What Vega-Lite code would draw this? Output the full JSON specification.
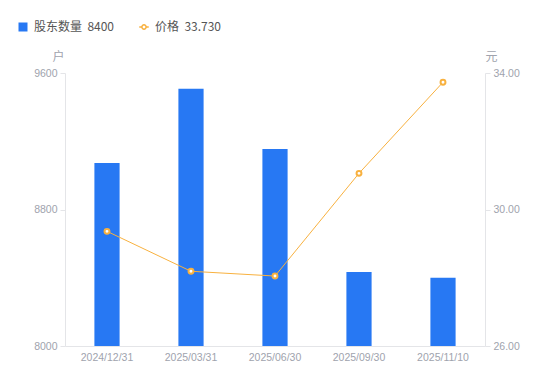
{
  "$schema": "https://vega.github.io/schema/vega-lite/v6.json",
  "width": 420,
  "height": 273,
  "autosize": {"type": "none"},
  "padding": {"left": 65, "top": 73, "right": 65, "bottom": 35},
  "background": "white",
  "config": {"view": {"stroke": null}, "font": "Liberation Sans", "axis": {"labelFont": "Liberation Sans"}},
  "data": {
    "values": [
      {"date": "2024/12/31", "holders": 9073, "price": 29.36},
      {"date": "2025/03/31", "holders": 9507, "price": 28.19},
      {"date": "2025/06/30", "holders": 9155, "price": 28.05},
      {"date": "2025/09/30", "holders": 8433, "price": 31.06},
      {"date": "2025/11/10", "holders": 8400, "price": 33.73}
    ]
  },
  "encoding": {
    "x": {
      "field": "date",
      "type": "ordinal",
      "sort": null,
      "scale": {"paddingInner": 0.7, "paddingOuter": 0.35},
      "axis": {
        "title": null,
        "labelAngle": 0,
        "ticks": false,
        "domainColor": "#E4E5E8",
        "labelColor": "#A0A3AD",
        "labelFont": "Liberation Sans",
        "labelFontSize": 10.5,
        "labelPadding": 6
      }
    }
  },
  "layer": [
    {
      "mark": {"type": "bar", "clip": true},
      "encoding": {
        "y": {
          "field": "holders",
          "type": "quantitative",
          "scale": {"domain": [8000, 9600], "nice": false, "zero": false},
          "axis": {
            "orient": "left",
            "values": [8000, 8800, 9600],
            "format": "d",
            "grid": false,
            "domainColor": "#E4E5E8",
            "tickColor": "#E4E5E8",
            "tickSize": 5,
            "labelPadding": 3,
            "labelColor": "#A0A3AD",
            "labelFont": "Liberation Sans",
            "labelFontSize": 10.5,
            "title": "户",
            "titleAngle": 0,
            "titleX": -7,
            "titleY": -17,
            "titleAlign": "center",
            "titleBaseline": "middle",
            "titleColor": "#A0A3AD",
            "titleFont": "Noto Sans CJK SC",
            "titleFontSize": 12,
            "titleFontWeight": "normal"
          }
        },
        "fill": {
          "datum": "股东数量",
          "scale": {"range": ["#2778F3"]},
          "legend": {
            "orient": "none",
            "legendX": -48,
            "legendY": -52,
            "title": null,
            "padding": 0,
            "symbolType": "square",
            "symbolSize": 81,
            "symbolStrokeWidth": 0,
            "labelFont": "Noto Sans CJK SC",
            "labelFontSize": 12,
            "labelColor": "#555555",
            "labelOffset": 5,
            "labelExpr": "datum.label + '\u00a0\u00a08400'"
          }
        }
      }
    },
    {
      "encoding": {
        "y": {
          "field": "price",
          "type": "quantitative",
          "scale": {"domain": [26, 34], "nice": false, "zero": false},
          "axis": {
            "orient": "right",
            "values": [26, 30, 34],
            "format": ".2f",
            "grid": false,
            "domainColor": "#E4E5E8",
            "tickColor": "#E4E5E8",
            "tickSize": 5,
            "labelPadding": 3,
            "labelColor": "#A0A3AD",
            "labelFont": "Liberation Sans",
            "labelFontSize": 10.5,
            "title": "元",
            "titleAngle": 0,
            "titleX": 6,
            "titleY": -17,
            "titleAlign": "center",
            "titleBaseline": "middle",
            "titleColor": "#A0A3AD",
            "titleFont": "Noto Sans CJK SC",
            "titleFontSize": 12,
            "titleFontWeight": "normal"
          }
        },
        "stroke": {
          "datum": "价格",
          "scale": {"range": ["#F8B13F"]},
          "legend": {
            "orient": "none",
            "legendX": 73,
            "legendY": -52,
            "title": null,
            "padding": 0,
            "symbolType": "M-1,0L-0.45,0M0.45,0L1,0M-0.45,0A0.45,0.45,0,1,1,0.45,0A0.45,0.45,0,1,1,-0.45,0",
            "symbolSize": 90,
            "symbolStrokeWidth": 1.5,
            "symbolFillColor": "white",
            "labelFont": "Noto Sans CJK SC",
            "labelFontSize": 12,
            "labelColor": "#555555",
            "labelOffset": 5,
            "labelExpr": "datum.label + '\u00a0\u00a033.730'"
          }
        }
      },
      "layer": [
        {"mark": {"type": "line", "strokeWidth": 1}},
        {"mark": {"type": "point", "filled": false, "fill": "white", "fillOpacity": 1, "opacity": 1, "strokeWidth": 2, "size": 24}}
      ]
    }
  ],
  "resolve": {"scale": {"y": "independent"}}
}
